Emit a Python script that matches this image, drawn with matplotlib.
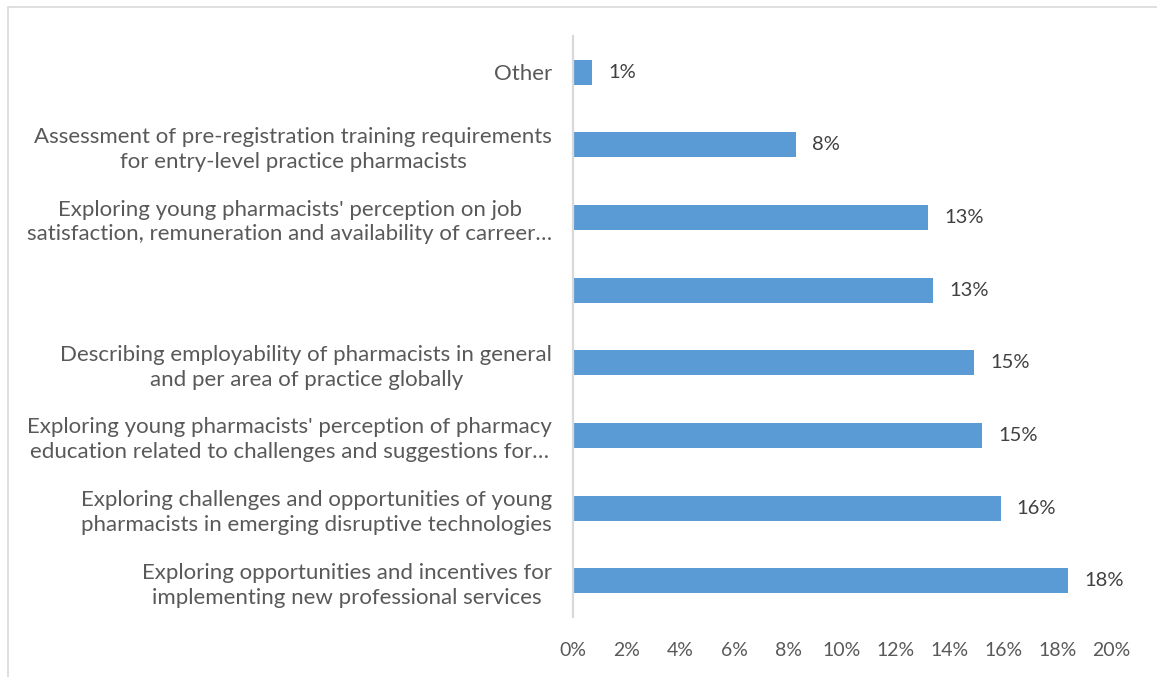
import matplotlib
matplotlib.use("Agg")
import matplotlib.pyplot as plt
from matplotlib.patches import Rectangle

# categories listed top to bottom, as in the chart
categories = [
    "Other",
    "Assessment of pre-registration training requirements\nfor entry-level practice pharmacists",
    "Exploring young pharmacists' perception on job\nsatisfaction, remuneration and availability of carreer\u2026",
    "",
    "Describing employability of pharmacists in general\nand per area of practice globally",
    "Exploring young pharmacists' perception of pharmacy\neducation related to challenges and suggestions for\u2026",
    "Exploring challenges and opportunities of young\npharmacists in emerging disruptive technologies",
    "Exploring opportunities and incentives for\nimplementing new professional services",
]
shares = [0.7, 8.3, 13.2, 13.4, 14.9, 15.2, 15.9, 18.4]
x_ticks = [0, 2, 4, 6, 8, 10, 12, 14, 16, 18, 20]

BAR = "#5B9BD5"
LABEL_GREY = "#595959"
VALUE_GREY = "#404040"
LINE_GREY = "#D9D9D9"

plt.rcParams["font.family"] = ["Lato", "DejaVu Sans"]

fig = plt.figure(figsize=(11.57, 6.77), dpi=100)
ax = fig.add_axes([0.4952, 0.0886, 0.4650, 0.8582])

# outer chart border (cut off on the right and bottom, as in the source)
fig.patches.append(Rectangle((8 / 1157, -0.1), 1.2, 1 - 7 / 677 + 0.1,
                             transform=fig.transFigure, fill=False,
                             edgecolor=LINE_GREY, linewidth=1.2))

pos = list(range(len(categories)))
ax.barh(pos, shares, height=0.345, color=BAR)
for y, v in zip(pos, shares):
    ax.text(v + 0.6, y, f"{round(v):.0f}%", va="center", ha="left",
            fontsize=14.5, color=VALUE_GREY)

ax.set_ylim(len(categories) - 0.5, -0.5)
ax.set_xlim(0, 20)
ax.set_xticks(x_ticks)
ax.set_xticklabels([f"{t}%" for t in x_ticks])
ax.set_yticks(pos)
ax.set_yticklabels(categories)
for lab in ax.get_yticklabels():
    lab.set_multialignment("center")
    lab.set_linespacing(1.3)

ax.tick_params(axis="y", length=0, pad=15, labelsize=16, labelcolor=LABEL_GREY)
ax.tick_params(axis="x", length=0, pad=18, labelsize=14, labelcolor=LABEL_GREY)

for side in ("top", "right", "bottom"):
    ax.spines[side].set_visible(False)
ax.spines["left"].set_color(LINE_GREY)
ax.spines["left"].set_linewidth(1.6)

fig.savefig("out.png", dpi=100)
